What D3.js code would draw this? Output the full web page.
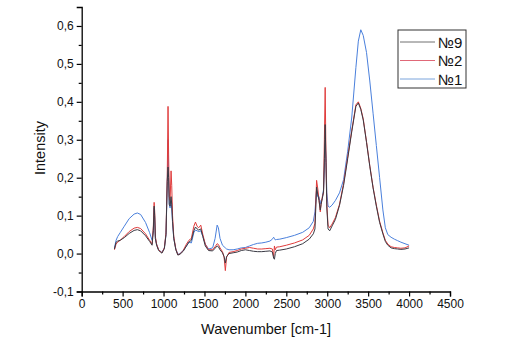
<!DOCTYPE html>
<html><head><meta charset="utf-8">
<script src="https://cdn.jsdelivr.net/npm/d3@7"></script>
<style>
html,body{margin:0;padding:0;background:#fff;}
svg{display:block;font-family:"Liberation Sans",Arial,sans-serif;}
</style></head>
<body><svg id="c" width="507" height="357"></svg>
<script>
const wavenumbers = [400,420,440,470,520,580,640,680,720,780,830,860,875,885,892,900,915,940,980,1010,1030,1045,1055,1062,1070,1080,1092,1100,1110,1125,1150,1175,1200,1240,1280,1310,1340,1370,1390,1410,1430,1455,1480,1510,1550,1600,1630,1655,1670,1690,1720,1740,1755,1770,1800,1850,1900,1950,2000,2050,2100,2150,2200,2250,2300,2330,2345,2355,2365,2380,2420,2500,2600,2700,2780,2830,2850,2870,2885,2900,2915,2925,2940,2955,2965,2975,2985,2995,3010,3030,3060,3100,3150,3200,3250,3300,3350,3380,3410,3440,3480,3520,3560,3600,3640,3680,3710,3740,3780,3820,3860,3900,3950,4000];

const s1 = [0.015,0.035,0.045,0.055,0.072,0.092,0.104,0.107,0.103,0.082,0.055,0.035,0.060,0.120,0.090,0.040,0.025,0.010,0.003,0.015,0.050,0.180,0.300,0.200,0.130,0.120,0.140,0.120,0.080,0.040,0.012,-0.002,0.000,0.008,0.020,0.030,0.028,0.055,0.062,0.060,0.058,0.060,0.045,0.025,0.012,0.015,0.040,0.075,0.068,0.040,0.022,0.018,0.015,0.012,0.010,0.010,0.012,0.015,0.016,0.020,0.024,0.027,0.028,0.030,0.033,0.038,0.043,0.040,0.036,0.037,0.038,0.042,0.048,0.056,0.068,0.085,0.110,0.170,0.150,0.150,0.130,0.140,0.145,0.170,0.220,0.290,0.250,0.160,0.125,0.122,0.128,0.140,0.160,0.195,0.270,0.360,0.490,0.560,0.590,0.575,0.530,0.455,0.370,0.285,0.200,0.115,0.068,0.050,0.043,0.038,0.034,0.030,0.026,0.022];

const s2 = [0.010,0.025,0.030,0.035,0.045,0.058,0.067,0.069,0.066,0.052,0.035,0.025,0.070,0.135,0.110,0.045,0.025,0.010,0.002,0.015,0.055,0.200,0.388,0.260,0.150,0.140,0.218,0.180,0.100,0.045,0.012,-0.003,-0.001,0.008,0.025,0.035,0.040,0.072,0.083,0.072,0.068,0.075,0.050,0.025,0.010,0.010,0.018,0.026,0.024,0.015,0.005,-0.010,-0.045,-0.010,0.003,0.005,0.008,0.012,0.014,0.016,0.014,0.012,0.012,0.013,0.014,0.012,-0.008,0.020,0.010,0.017,0.018,0.022,0.028,0.036,0.048,0.065,0.080,0.193,0.170,0.140,0.110,0.130,0.150,0.160,0.300,0.438,0.250,0.130,0.075,0.068,0.078,0.095,0.130,0.185,0.255,0.325,0.392,0.400,0.383,0.355,0.295,0.232,0.175,0.128,0.085,0.055,0.035,0.025,0.018,0.016,0.015,0.014,0.015,0.020];

const s9 = [0.012,0.030,0.033,0.035,0.042,0.053,0.061,0.063,0.060,0.047,0.032,0.022,0.060,0.125,0.100,0.040,0.022,0.008,0.001,0.013,0.050,0.190,0.228,0.200,0.130,0.125,0.150,0.130,0.085,0.040,0.010,-0.004,-0.002,0.006,0.020,0.030,0.035,0.060,0.070,0.065,0.062,0.065,0.045,0.020,0.008,0.007,0.014,0.020,0.018,0.010,0.002,-0.008,-0.025,-0.008,0.000,0.002,0.004,0.008,0.010,0.008,0.006,0.005,0.005,0.006,0.007,0.004,-0.012,-0.015,0.000,0.008,0.009,0.012,0.018,0.026,0.038,0.052,0.065,0.175,0.155,0.140,0.115,0.130,0.145,0.165,0.250,0.340,0.240,0.120,0.065,0.060,0.073,0.090,0.127,0.180,0.250,0.322,0.388,0.397,0.380,0.352,0.293,0.230,0.173,0.125,0.082,0.052,0.032,0.022,0.015,0.013,0.012,0.011,0.012,0.015];

const seriesNames = ["№9","№2","№1"];
const xTicks = [0,500,1000,1500,2000,2500,3000,3500,4000,4500];
const yTicks = [-0.1,0.0,0.1,0.2,0.3,0.4,0.5,0.6];
const xLabel = "Wavenumber [cm-1]";
const yLabel = "Intensity";

const colors = {"№9":"#3a3a44","№2":"#e03c3c","№1":"#4a80dc"};
const legendColors = {"№9":"#707070","№2":"#e06878","№1":"#7aa4dc"};

const svg = d3.select("#c");
const x = d3.scaleLinear().domain([0,4500]).range([81.7,450]);
const y = d3.scaleLinear().domain([-0.1,0.65]).range([291.5,7]);

const fmtY = d => d3.format(".1f")(d).replace(".",",").replace("−","-");

// minor ticks
const xMinor = d3.range(250,4500,500);
const yMinor = d3.range(-0.05,0.65,0.1);

const gx = svg.append("g").attr("transform",`translate(0,${y(-0.1)})`);
gx.call(d3.axisBottom(x).tickValues(xTicks).tickFormat(d3.format("d")).tickSize(5).tickPadding(3));
gx.append("g").call(d3.axisBottom(x).tickValues(xMinor).tickFormat("").tickSize(3)).select(".domain").remove();

const gy = svg.append("g").attr("transform",`translate(${x(0)},0)`);
gy.call(d3.axisLeft(y).tickValues(yTicks).tickFormat(fmtY).tickSize(5).tickPadding(3));
gy.append("g").call(d3.axisLeft(y).tickValues(yMinor).tickFormat("").tickSize(3)).select(".domain").remove();

svg.selectAll(".domain").attr("stroke","#000").attr("stroke-width",1.3);
svg.selectAll(".tick line").attr("stroke","#000").attr("stroke-width",1.2);
svg.selectAll(".tick text").attr("font-size",12).attr("fill","#111").attr("font-family","Liberation Sans, Arial, sans-serif");

const line = d3.line().x((d,i)=>x(wavenumbers[i])).y(d=>y(d));
const plot = svg.append("g");
[["№1",s1],["№2",s2],["№9",s9]].forEach(([n,arr])=>{
  plot.append("path").datum(arr).attr("d",line).attr("fill","none")
    .attr("stroke",colors[n]).attr("stroke-width",1).attr("stroke-linejoin","round");
});

svg.append("text").attr("x",266).attr("y",334).attr("text-anchor","middle")
  .attr("font-size",14.5).attr("fill","#111").text(xLabel);
svg.append("text").attr("transform","translate(45,148) rotate(-90)").attr("text-anchor","middle")
  .attr("font-size",14.5).attr("fill","#111").text(yLabel);

// legend
const lg = svg.append("g");
lg.append("rect").attr("x",398).attr("y",30).attr("width",68).attr("height",58)
  .attr("fill","#fff").attr("stroke","#333").attr("stroke-width",1);
seriesNames.forEach((n,i)=>{
  const yy = 42 + i*18.5;
  lg.append("line").attr("x1",400).attr("x2",435).attr("y1",yy).attr("y2",yy)
    .attr("stroke",legendColors[n]).attr("stroke-width",1);
  lg.append("text").attr("x",438).attr("y",yy+5.5).attr("font-size",15).attr("fill","#111").text(n);
});
</script></body></html>
